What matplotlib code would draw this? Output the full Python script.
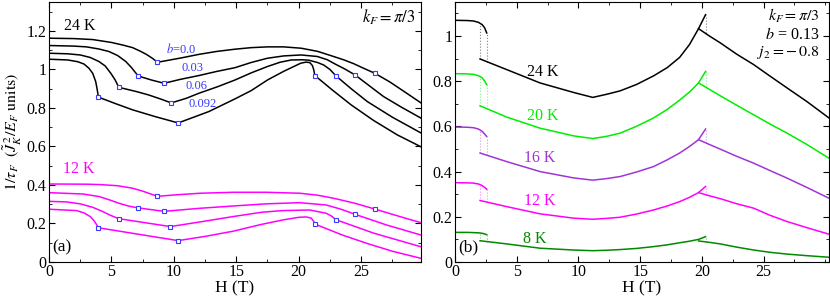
"""
Relaxation rate 1/tau_F vs field H: (a) b dependence, (b) temperature dependence.
"""

import numpy as np
import matplotlib.pyplot as plt
from matplotlib.ticker import MultipleLocator, FixedLocator, FormatStrFormatter

# ---------------- panel (a): 24 K curves (H in T, rate in J_K^2/E_F units)
h_24_b000 = [0, 2, 3.5, 5.0, 6.0, 6.7, 7.3, 7.8, 8.3, 8.69, 10.7, 12.0, 13.4, 14.9, 16.2,
             17.5, 18.8, 20.2, 21.5, 22.8, 23.6, 24.4, 25.2, 26.1, 27.3, 28.5, 29.8]
r_24_b000 = [1.162, 1.160, 1.155, 1.140, 1.125, 1.113, 1.095, 1.078, 1.057, 1.037, 1.061, 1.078,
             1.093, 1.105, 1.113, 1.117, 1.117, 1.110, 1.094, 1.067, 1.050, 1.030, 1.006, 0.980,
             0.935, 0.883, 0.826]
h_24_b003 = [0, 2, 3.0, 4.0, 4.8, 5.5, 6.15, 6.6, 7.14, 8.2, 9.22, 10.5, 12.0, 13.4, 14.9, 16.2,
             17.5, 18.8, 20.2, 21.5, 22.3, 22.8, 23.7, 24.5, 25.6, 26.8, 28.2, 29.8]
r_24_b003 = [1.124, 1.121, 1.117, 1.106, 1.093, 1.072, 1.041, 1.010, 0.966, 0.945, 0.928, 0.948,
             0.968, 0.989, 1.009, 1.036, 1.058, 1.070, 1.075, 1.067, 1.050, 1.032, 1.002, 0.972,
             0.918, 0.859, 0.805, 0.747]
h_24_b006 = [0, 1.5, 2.5, 3.3, 4.0, 4.5, 4.95, 5.3, 5.59, 7.0, 8.0, 9.0, 9.79, 11.0, 12.0, 13.5,
             14.9, 16.2, 17.5, 18.5, 19.4, 20.3, 20.8, 21.5, 22.0, 22.5, 22.96, 24.2, 25.5, 27.5, 29.8]
r_24_b006 = [1.084, 1.081, 1.075, 1.062, 1.041, 1.018, 0.980, 0.945, 0.907, 0.885, 0.867, 0.845,
             0.826, 0.850, 0.876, 0.910, 0.945, 0.982, 1.015, 1.037, 1.049, 1.050, 1.048, 1.036,
             1.023, 1.000, 0.968, 0.900, 0.833, 0.752, 0.670]
h_24_b092 = [0, 1.5, 2.3, 2.8, 3.2, 3.5, 3.74, 3.85, 3.96, 5.3, 6.7, 8.5, 10.35, 12.8, 14.9, 16.2,
             17.5, 18.8, 20.16, 20.6, 20.9, 21.1, 21.2, 21.3, 22.7, 24.2, 26.0, 27.9, 29.8]
r_24_b092 = [1.053, 1.049, 1.040, 1.028, 1.006, 0.980, 0.937, 0.900, 0.856, 0.823, 0.790, 0.755,
             0.722, 0.781, 0.847, 0.890, 0.945, 0.990, 1.032, 1.038, 1.035, 1.020, 1.000, 0.968,
             0.893, 0.816, 0.735, 0.660, 0.598]

# ---------------- panel (a): 12 K curves
h_12_b000 = [0, 3, 4.1, 5.5, 6.7, 7.5, 8.2, 8.69, 10.0, 12.1, 14.76, 17.4, 20.1, 21.5, 22.8,
             24.5, 26.1, 28.0, 29.8]
r_12_b000 = [0.405, 0.404, 0.402, 0.396, 0.383, 0.368, 0.352, 0.341, 0.348, 0.357, 0.362, 0.362,
             0.357, 0.347, 0.331, 0.305, 0.275, 0.238, 0.204]
h_12_b003 = [0, 2.73, 4.0, 4.87, 5.6, 6.4, 7.14, 9.22, 12.1, 14.8, 17.4, 20.1, 22.2, 23.4, 24.5,
             27.0, 29.8]
r_12_b003 = [0.360, 0.353, 0.340, 0.322, 0.305, 0.290, 0.281, 0.263, 0.279, 0.291, 0.302, 0.308,
             0.296, 0.274, 0.248, 0.193, 0.140]
h_12_b006 = [0, 1.4, 2.5, 3.5, 4.3, 4.9, 5.59, 8.1, 9.73, 12.0, 14.76, 17.0, 18.7, 20.9, 22.2,
             22.6, 22.97, 26.0, 29.8]
r_12_b006 = [0.315, 0.312, 0.302, 0.284, 0.262, 0.243, 0.225, 0.200, 0.184, 0.207, 0.236, 0.258,
             0.267, 0.270, 0.253, 0.240, 0.220, 0.150, 0.079]
h_12_b092 = [0, 2.2, 2.8, 3.3, 3.6, 3.8, 3.93, 6.7, 10.35, 12.5, 14.76, 17.0, 18.7, 20.0, 20.6,
             21.0, 21.2, 21.3, 23.5, 25.5, 27.5, 29.8]
r_12_b092 = [0.274, 0.267, 0.255, 0.236, 0.215, 0.195, 0.178, 0.149, 0.111, 0.133, 0.160, 0.195,
             0.218, 0.232, 0.234, 0.228, 0.212, 0.197, 0.140, 0.096, 0.056, 0.019]

# transition fields marked with squares
marks_b000 = [8.69, 26.1]
marks_b003 = [7.14, 9.22, 24.5]
marks_b006 = [5.59, 9.79, 22.96]
marks_b092 = [3.96, 10.35, 21.3]
marks_12_b006 = [5.59, 9.73, 22.97]
b_labels = ["$b$=0.0", "0.03", "0.06", "0.092"]

# ---------------- panel (b): temperature series, b = 0.13
temps = ["24 K", "20 K", "16 K", "12 K", "8 K"]
colors_b = ["black", "#00ee00", "#a035d6", "#ff00ff", "#008a00"]

h_low = [0, 1.0, 1.5, 1.9, 2.2, 2.4, 2.57]
h_mid = [2.03, 4.19, 6.89, 9.6, 11.16, 12.3, 13.38, 14.7, 16.08, 17.2, 18.2, 19.0, 19.73, 20.3]
h_high = [19.73, 20.6, 21.5, 22.8, 24.2, 25.5, 26.9, 28.5, 30.3]

r_low_24 = [1.069, 1.068, 1.066, 1.060, 1.050, 1.036, 1.013]
r_mid_24 = [0.898, 0.851, 0.792, 0.750, 0.728, 0.742, 0.757, 0.785, 0.823, 0.860, 0.905, 0.962,
            1.032, 1.094]
r_high_24 = [1.032, 1.000, 0.969, 0.920, 0.873, 0.823, 0.770, 0.710, 0.637]

r_low_20 = [0.833, 0.832, 0.830, 0.824, 0.815, 0.800, 0.784]
r_mid_20 = [0.691, 0.641, 0.592, 0.558, 0.546, 0.556, 0.570, 0.600, 0.637, 0.675, 0.716, 0.752,
            0.792, 0.843]
r_high_20 = [0.792, 0.764, 0.735, 0.694, 0.651, 0.611, 0.570, 0.520, 0.459]

r_low_16 = [0.597, 0.596, 0.594, 0.588, 0.578, 0.566, 0.555]
r_mid_16 = [0.482, 0.444, 0.400, 0.372, 0.362, 0.369, 0.378, 0.398, 0.422, 0.452, 0.482, 0.511,
            0.541, 0.588]
r_high_16 = [0.541, 0.520, 0.499, 0.468, 0.437, 0.405, 0.371, 0.330, 0.282]

r_low_12 = [0.351, 0.350, 0.349, 0.345, 0.338, 0.330, 0.322]
r_mid_12 = [0.272, 0.245, 0.213, 0.194, 0.189, 0.193, 0.198, 0.212, 0.230, 0.248, 0.267, 0.286,
            0.307, 0.334]
r_high_12 = [0.307, 0.293, 0.280, 0.258, 0.238, 0.207, 0.179, 0.152, 0.123]

r_low_8 = [0.131, 0.131, 0.130, 0.129, 0.127, 0.124, 0.121]
r_mid_8 = [0.094, 0.080, 0.061, 0.053, 0.050, 0.052, 0.055, 0.060, 0.068, 0.076, 0.085, 0.092,
           0.100, 0.112]
r_high_8 = [0.093, 0.087, 0.080, 0.066, 0.053, 0.043, 0.035, 0.028, 0.021]

plt.rcParams['font.family'] = ['Liberation Serif', 'DejaVu Serif']
plt.rcParams['mathtext.fontset'] = 'stix'

fig = plt.figure(figsize=(8.3, 2.98), dpi=100)
ax_a = fig.add_axes([49 / 830, 1 - 262 / 298, 372 / 830, 260 / 298])
ax_b = fig.add_axes([455 / 830, 1 - 262 / 298, 374 / 830, 260 / 298])

blue = "#3a3aff"
lw = 1.1


def mark_idx(h, marks):
    return [int(np.argmin(np.abs(np.array(h) - m))) for m in marks]


curves_24 = [(h_24_b000, r_24_b000, marks_b000), (h_24_b003, r_24_b003, marks_b003),
             (h_24_b006, r_24_b006, marks_b006), (h_24_b092, r_24_b092, marks_b092)]
curves_12 = [(h_12_b000, r_12_b000, marks_b000), (h_12_b003, r_12_b003, marks_b003),
             (h_12_b006, r_12_b006, marks_12_b006), (h_12_b092, r_12_b092, marks_b092)]

for curves, col in [(curves_24, "black"), (curves_12, "#ff00ff")]:
    for h, r, mk in curves:
        ax_a.plot(h, r, color=col, lw=lw, zorder=2)
        idx = mark_idx(h, mk)
        ax_a.plot(np.array(h)[idx], np.array(r)[idx], ls='none', marker='s', ms=3.2,
                  mfc='white', mec=blue, mew=0.8, zorder=3)

# b labels next to the 24 K curves
label_pos = [(10.6, 1.106), (11.5, 1.008), (11.85, 0.914), (12.3, 0.821)]
for txt, (x, y) in zip(b_labels, label_pos):
    ax_a.text(x, y, txt, color=blue, fontsize=9, ha='center', va='center')

ax_a.text(1.2, 1.226, "24 K", fontsize=11.5, va='center')
ax_a.text(1.1, 0.483, "12 K", fontsize=11.5, va='center', color="#ff00ff")
ax_a.text(0.985, 0.94, r"$k_F = \pi/3$", transform=ax_a.transAxes, fontsize=12,
          ha='right', va='center')
ax_a.text(0.008, 0.055, "(a)", transform=ax_a.transAxes, fontsize=12.5, va='center')

ax_a.set_xlim(0, 29.8)
ax_a.set_ylim(0, 1.35)
ax_a.set_ylabel(r"$1/\tau_F\ \ (\tilde{J}_K^{\,2}/E_F\ \mathrm{units})$", fontsize=11.5)
ax_a.yaxis.set_label_coords(-0.066, 0.5)

# panel (b)
series_b = [(r_low_24, r_mid_24, r_high_24), (r_low_20, r_mid_20, r_high_20),
            (r_low_16, r_mid_16, r_high_16), (r_low_12, r_mid_12, r_high_12),
            (r_low_8, r_mid_8, r_high_8)]
text_pos = [(7.1, 0.842), (7.1, 0.647), (6.9, 0.461), (6.9, 0.270), (6.5, 0.102)]

for (lo, mid, hi), col, name, (tx, ty) in zip(series_b, colors_b, temps, text_pos):
    ax_b.plot(h_low, lo, color=col, lw=lw)
    ax_b.plot(h_mid, mid, color=col, lw=lw)
    ax_b.plot(h_high, hi, color=col, lw=lw)
    # hysteresis jumps
    x1, x2, x3 = h_mid[0], h_low[-1], h_mid[-1]
    ax_b.vlines(x1, mid[0], np.interp(x1, h_low, lo), colors=col, linestyles=':', lw=0.8, alpha=0.5)
    ax_b.vlines(x2, np.interp(x2, h_mid, mid), lo[-1], colors=col, linestyles=':', lw=0.8, alpha=0.5)
    ax_b.vlines(x3, np.interp(x3, h_high, hi), mid[-1], colors=col, linestyles=':', lw=0.8, alpha=0.5)
    ax_b.text(tx, ty, name, color=col, fontsize=11.5, ha='center', va='center')

ax_b.text(0.975, 0.945, r"$k_F = \pi/3$", transform=ax_b.transAxes, fontsize=11.5, ha='right', va='center')
ax_b.text(0.975, 0.874, r"$b$ = 0.13", transform=ax_b.transAxes, fontsize=11.5, ha='right', va='center')
ax_b.text(0.975, 0.805, r"$j_2 = -\,0.8$", transform=ax_b.transAxes, fontsize=11.5, ha='right', va='center')
ax_b.text(0.008, 0.055, "(b)", transform=ax_b.transAxes, fontsize=12.5, va='center')

ax_b.set_xlim(0, 30.3)
ax_b.set_ylim(0, 1.15)

for ax in (ax_a, ax_b):
    ax.set_xlabel("H (T)", fontsize=12.5, labelpad=0)
    ax.xaxis.set_major_locator(FixedLocator([0, 5, 10, 15, 20, 25]))
    ax.xaxis.set_minor_locator(MultipleLocator(2.5))
    ax.yaxis.set_major_locator(MultipleLocator(0.2))
    ax.yaxis.set_minor_locator(MultipleLocator(0.1))
    ax.yaxis.set_major_formatter(FormatStrFormatter('%g'))
    ax.xaxis.set_major_formatter(FormatStrFormatter('%g'))
    ax.tick_params(which='both', direction='in', top=True, right=True, labelsize=11.5)
    ax.tick_params(axis='x', pad=1.5)
    ax.tick_params(axis='y', pad=2)
    ax.tick_params(which='major', length=4)
    ax.tick_params(which='minor', length=2)

fig.savefig("out.png", dpi=100)
